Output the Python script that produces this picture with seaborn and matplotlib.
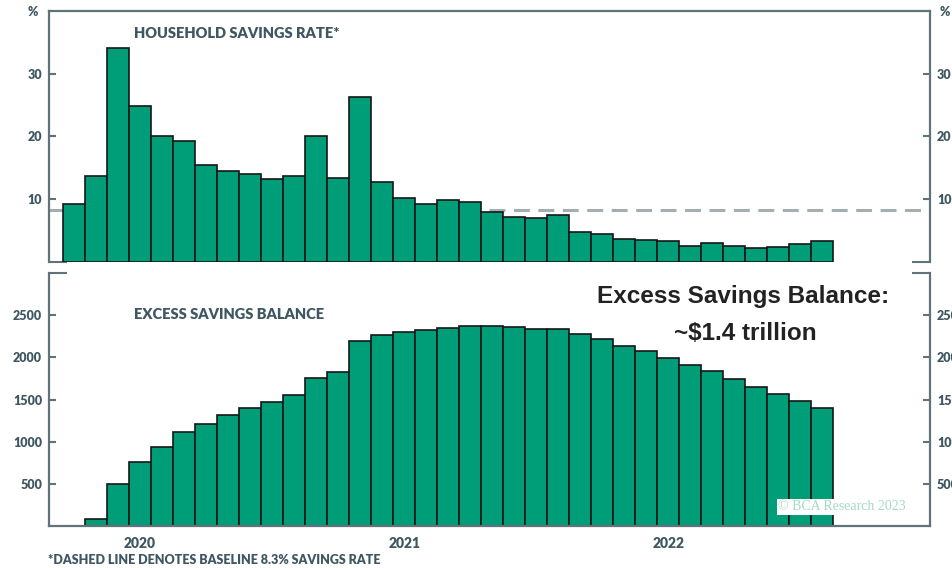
import numpy as np
import pandas as pd
import matplotlib
matplotlib.use('Agg')
import matplotlib.pyplot as plt
import seaborn as sns

# monthly data, Feb 2020 .. Dec 2022
months = pd.period_range('2020-02', '2022-12', freq='M').astype(str).tolist()

savings_rate = [9.2, 13.7, 34.0, 24.9, 20.1, 19.2, 15.5, 14.5, 14.0, 13.2,
                13.7, 20.1, 13.3, 26.3, 12.8, 10.2, 9.3, 9.8, 9.5, 7.9,
                7.2, 7.0, 7.5, 4.7, 4.4, 3.7, 3.5, 3.3, 2.6, 3.0,
                2.6, 2.3, 2.4, 2.8, 3.4]

excess_savings = [0, 85, 500, 755, 940, 1110, 1215, 1315, 1405, 1475,
                  1550, 1755, 1830, 2190, 2265, 2300, 2320, 2350, 2370, 2370,
                  2355, 2340, 2333, 2275, 2215, 2135, 2070, 1990, 1905, 1835,
                  1745, 1650, 1560, 1480, 1400]

baseline_rate = 8.3
year_labels = ['2020', '2021', '2022']
year_months = ['2020-05', '2021-05', '2022-05']

rate_ticks = [10, 20, 30]
balance_ticks = [500, 1000, 1500, 2000, 2500]

sns.set_style('white')
plt.rcParams['font.family'] = ['Lato', 'DejaVu Sans']

BAR = '#009e78'
SPINE = '#5f7379'
TXT = '#3f5761'
W = 'heavy'

fig = plt.figure(figsize=(9.53, 5.68), dpi=100)
ax1 = fig.add_axes([0.0514, 0.5387, 0.9245, 0.4425])
ax2 = fig.add_axes([0.0514, 0.0739, 0.9245, 0.4455])

df = pd.DataFrame({'month': months, 'rate': savings_rate, 'balance': excess_savings})

sns.barplot(data=df, x='month', y='rate', color=BAR, saturation=1, width=1.0,
            edgecolor='#161616', linewidth=1.2, ax=ax1, zorder=2)
sns.barplot(data=df, x='month', y='balance', color=BAR, saturation=1, width=1.0,
            edgecolor='#161616', linewidth=1.2, ax=ax2, zorder=2)

ax1.axhline(baseline_rate, color='#a3aeb2', lw=2.2, ls=(0, (5.2, 2.8)), zorder=1)

for ax, ymax, ticks in [(ax1, 40, rate_ticks), (ax2, 3000, balance_ticks)]:
    ax.set_xlim(-1.14, 38.9)
    ax.set_ylim(0, ymax)
    ax.set_xlabel('')
    ax.set_ylabel('')
    ax.set_yticks(ticks)
    ax.set_yticklabels([str(t) for t in ticks])
    ax.tick_params(axis='y', which='major', direction='in', length=5, width=1.5,
                   color=SPINE, labelcolor=TXT, labelsize=9, pad=5,
                   left=True, right=True, labelleft=True, labelright=True)
    ax.tick_params(axis='y', which='minor', direction='in', length=13, width=1.5,
                   color=SPINE, left=True, right=True)
    for lab in ax.get_yticklabels():
        lab.set_fontweight(W)
    for s in ax.spines.values():
        s.set_color(SPINE)
        s.set_linewidth(1.6)

# top panel: open at the bottom, hooks at zero
ax1.spines['bottom'].set_visible(False)
ax1.set_yticks([0], minor=True)
ax1.set_xticks([])

# bottom panel: open at the top, hooks at the top
ax2.spines['top'].set_visible(False)
ax2.set_yticks([3000], minor=True)
ax2.set_xticks([months.index(m) for m in year_months])
ax2.set_xticklabels(year_labels)
ax2.tick_params(axis='x', length=0, pad=8, labelcolor=TXT, labelsize=10)
for lab in ax2.get_xticklabels():
    lab.set_fontweight(W)

ax1.text(0.096, 0.91, 'HOUSEHOLD SAVINGS RATE*', transform=ax1.transAxes,
         fontsize=10.5, fontweight=W, color=TXT, va='center')
ax2.text(0.096, 0.835, 'EXCESS SAVINGS BALANCE', transform=ax2.transAxes,
         fontsize=10.5, fontweight=W, color=TXT, va='center')

fig.text(33 / 953, 1 - 12 / 568, '%', fontsize=9, fontweight=W, color=TXT,
         ha='center', va='center')
fig.text(945 / 953, 1 - 12 / 568, '%', fontsize=9, fontweight=W, color=TXT,
         ha='center', va='center')

fig.text(743 / 953, 1 - 297 / 568, 'Excess Savings Balance:',
         family=['Liberation Sans', 'DejaVu Sans'], fontweight='bold',
         fontsize=17.5, color='#222222', ha='center', va='center')
fig.text(745 / 953, 1 - 333 / 568, '~$1.4 trillion',
         family=['Liberation Sans', 'DejaVu Sans'], fontweight='bold',
         fontsize=17.5, color='#222222', ha='center', va='center')

fig.text(842 / 953, 1 - 507 / 568, '\u00a9 BCA Research 2023',
         family=['Liberation Serif', 'DejaVu Serif'], fontsize=10, color='#a3dbc6',
         ha='center', va='center',
         bbox=dict(facecolor='white', edgecolor='none', pad=1.0), zorder=5)

fig.text(48 / 953, 1 - 560 / 568, '*DASHED LINE DENOTES BASELINE 8.3% SAVINGS RATE',
         fontsize=9, fontweight=W, color=TXT, ha='left', va='center')

fig.savefig('out.png', dpi=100)
